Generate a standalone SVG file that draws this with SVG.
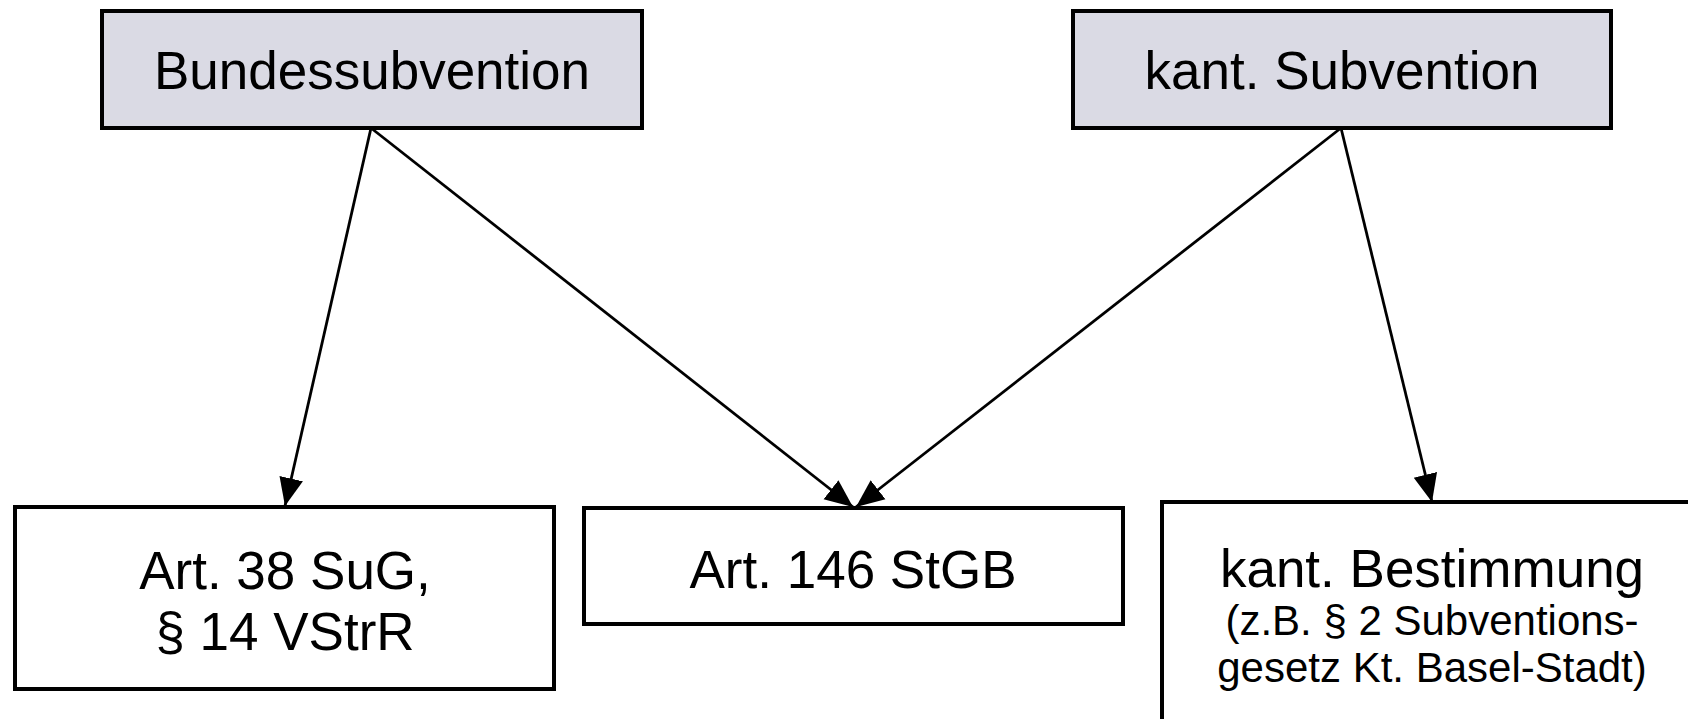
<svg xmlns="http://www.w3.org/2000/svg" width="1688" height="719" viewBox="0 0 1688 719">
<style>
.top{fill:#dadae4;stroke:#000;stroke-width:4}
.bot{fill:#fff;stroke:#000;stroke-width:4}
.t{font-family:"Liberation Sans",Arial,sans-serif;font-size:53px;fill:#000;text-anchor:middle}
.s{font-size:42px}
.c{stroke:#000;stroke-width:2.8;fill:none;marker-end:url(#ah)}
</style>
<defs>
<marker id="ah" markerUnits="userSpaceOnUse" markerWidth="28" markerHeight="26" viewBox="0 0 28 26" refX="28" refY="13" orient="auto">
<path d="M0,1 L28,13 L0,25 Z" fill="#000"/>
</marker>
</defs>
<rect width="1688" height="719" fill="#fff"/>
<g id="connectors">
<line class="c" x1="371" y1="128" x2="285" y2="506"/>
<line class="c" x1="371" y1="128" x2="853" y2="507"/>
<line class="c" x1="1341" y1="128" x2="856" y2="507"/>
<line class="c" x1="1341" y1="128" x2="1432" y2="502"/>
</g>
<g id="bundessubvention">
<rect class="top" x="102" y="11" width="540" height="117"/>
<text class="t" x="372" y="89">Bundessubvention</text>
</g>
<g id="kant-subvention">
<rect class="top" x="1073" y="11" width="538" height="117"/>
<text class="t" x="1342" y="89">kant. Subvention</text>
</g>
<g id="art38">
<rect class="bot" x="15" y="507" width="539" height="182"/>
<text class="t" x="285" y="589">Art. 38 SuG,</text>
<text class="t" x="285" y="650">§ 14 VStrR</text>
</g>
<g id="art146">
<rect class="bot" x="584" y="508" width="539" height="116"/>
<text class="t" x="853" y="588">Art. 146 StGB</text>
</g>
<g id="kant-bestimmung">
<rect class="bot" x="1162" y="502" width="540" height="240"/>
<text class="t" x="1432" y="587">kant. Bestimmung</text>
<text class="t s" x="1432" y="635">(z.B. § 2 Subventions-</text>
<text class="t s" x="1432" y="682">gesetz Kt. Basel-Stadt)</text>
</g>
</svg>
